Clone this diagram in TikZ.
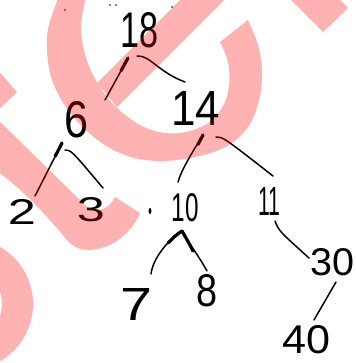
\documentclass[tikz,border=0pt]{standalone}
\usepackage{fontspec}
\setmainfont{Liberation Sans}
\usepackage{graphicx}
\usetikzlibrary{calc}
% a number squeezed into a given ink box (width, height)
\newcommand\handnum[3]{\resizebox{#1pt}{#2pt}{#3}}
\begin{document}
\begin{tikzpicture}[x=1pt, y=-1pt,
  numtxt/.style={inner sep=0pt, outer sep=0pt, font=\normalfont},
  pen/.style={line width=1.5pt, line cap=round, line join=round},
  heavy/.style={line width=3.2pt, line cap=round},
  wm/.style={fill=red, fill opacity=0.3}]
\useasboundingbox (0,0) rectangle (355,363);
\clip (0,0) rectangle (355,363);
\fill[white] (0,0) rectangle (355,363);

% ---- tree labels ----
\node[numtxt] (n18) at (140,30)  {\handnum{38}{35}{18}};
\node[numtxt] (n14) at (196,108) {\handnum{49}{34}{14}};
\node[numtxt] (n6)  at (77,120)  {\handnum{24}{36}{6}};
\node[numtxt] (n2)  at (22,212)  {\handnum{28}{25}{2}};
\node[numtxt] (n3)  at (91,210)  {\handnum{28}{24}{3}};
\node[numtxt] (n10) at (185,208) {\handnum{27}{28}{10}};
\node[numtxt] (n11) at (269,201) {\handnum{22}{28}{11}};
\node[numtxt] (n30) at (332.5,262) {\handnum{44}{27}{30}};
\node[numtxt] (n7)  at (137,304) {\handnum{32}{32}{7}};
\node[numtxt] (n8)  at (207,291) {\handnum{21}{32}{8}};
\node[numtxt] (n40) at (306,340) {\handnum{48}{28}{40}};

% stray pen marks
\fill (150,211) ellipse [x radius=1.4pt, y radius=3pt];
\fill (110,5) circle [radius=0.8pt];
\fill (116,5) circle [radius=0.8pt];
\fill (172,7) circle [radius=0.8pt];
\fill (65,10) circle [radius=0.8pt];

% ---- connector end points ----
\coordinate (a1) at (128,58);  \coordinate (b1) at (105,100);  % 18 - 6
\coordinate (a2) at (137,56);  \coordinate (b2) at (185,82);   % 18 - 14
\coordinate (a3) at (62,143);  \coordinate (b3) at (35,196);   % 6 - 2
\coordinate (a4) at (65,150);  \coordinate (b4) at (103,188);  % 6 - 3
\coordinate (a5) at (203,135); \coordinate (b5) at (178,182);  % 14 - 10
\coordinate (a6) at (216,137); \coordinate (b6) at (273,176);  % 14 - 11
\coordinate (a7) at (275,221); \coordinate (b7) at (309,258);  % 11 - 30
\coordinate (a8) at (336,282); \coordinate (b8) at (314,320);  % 30 - 40
\coordinate (a9) at (182,231); \coordinate (b9) at (151,274);  % 10 - 7
\coordinate (b10) at (207,271);                                % 10 - 8

% ---- connectors ----
\draw[pen] (a1) -- (b1);
\draw[heavy] (a1) -- ($(a1)!0.3!(b1)$);
\draw[pen] (a2) .. controls (150,55) and (158,72) .. (b2);
\draw[pen] (a3) -- (b3);
\draw[heavy] (a3) -- ($(a3)!0.25!(b3)$);
\draw[pen] (a4) .. controls (71,150) .. (b4);
\draw[pen] (a5) .. controls (195,148) and (182,168) .. (b5);
\draw[heavy] (a5) -- ($(a5)!0.2!(b5)$);
\draw[pen] (a6) .. controls (223,137) .. (b6);
\draw[pen] (a7) .. controls (279,231) .. (b7);
\draw[pen] (a8) -- (b8);
\draw[pen] (a9) .. controls (168,240) and (153,258) .. (b9);
\draw[pen] (a9) .. controls (190,245) and (200,258) .. (b10);
\draw[heavy] (a9) .. controls (177,234) and (173,238) .. (168,243);
\draw[heavy] (a9) .. controls (186,238) and (189,243) .. (193,251);

% ---- red watermark, laid over everything ----
% letter C and the diagonal stroke that runs into it
\fill[wm]
  plot[smooth, tension=0.6] coordinates {(62,-12) (49,25) (47,50) (52,80)
    (68,110) (95,138) (125,155) (158,161) (195,157) (227,146) (248,127)
    (259,100) (262,72) (258,45) (248,20)}
  -- plot[smooth, tension=0.6] coordinates {(220,42) (228,62) (229,85)
    (224,104) (211,121) (190,131) (165,133) (140,125) (115,106) (98,84)
    (86,58) (81,30) (84,5) (90,-12)}
  -- cycle
  (97,83) -- (117,107) -- (300,-76) -- (280,-100) -- cycle;
% stroke at the top right
\fill[wm] (323,32) -- (348,8) -- (240,-100) -- (215,-76) -- cycle;
% curved stroke at the left
\fill[wm] (-10,112) -- (85,205) .. controls (92,212) and (106,214) .. (115,197)
  -- (140,213) .. controls (132,232) and (112,250) .. (87,250)
  .. controls (80,250) and (74,247) .. (68,241)
  .. controls (50,220) and (25,190) .. (-10,166) -- cycle;
% wedge at the left edge
\fill[wm] (-5,67) -- (17,92) -- (-5,113) -- cycle;
% ring at the bottom left
\fill[wm, even odd rule] (-33,304) circle [radius=66pt] (-33,304) circle [radius=35pt];
\end{tikzpicture}
\end{document}
